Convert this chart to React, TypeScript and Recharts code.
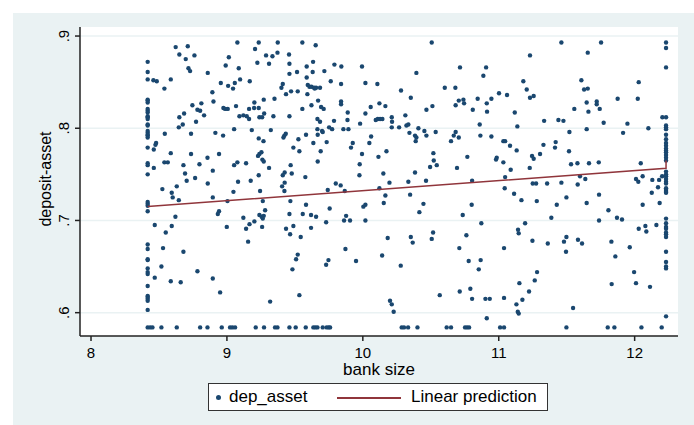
import { ScatterChart, Scatter, XAxis, YAxis, CartesianGrid, Label } from 'recharts';

// bank size (log assets) vs deposit/asset ratio
const leftEdgeX = 8.417;
const leftEdgeY = [
  0.872, 0.861, 0.853, 0.831, 0.830, 0.828, 0.821, 0.819, 0.817, 0.813, 0.812, 0.810,
  0.804, 0.803, 0.797, 0.795, 0.793, 0.792, 0.790, 0.779, 0.762, 0.760, 0.750,
  0.720, 0.718, 0.716, 0.710, 0.674, 0.669, 0.658, 0.657, 0.648, 0.644, 0.642,
  0.629, 0.618, 0.617, 0.615, 0.613, 0.603,
];

const rightEdgeX = 12.231;
const rightEdgeY = [
  0.893, 0.887, 0.866, 0.812, 0.803, 0.801, 0.799, 0.793, 0.788, 0.784, 0.781, 0.778,
  0.776, 0.774, 0.771, 0.768, 0.765, 0.753, 0.750, 0.748, 0.745, 0.742, 0.740,
  0.735, 0.733, 0.731, 0.730, 0.702, 0.697, 0.693, 0.691, 0.687, 0.685, 0.682,
  0.666, 0.655, 0.650, 0.648, 0.596,
];

const floorY = 0.584;
const floorX = [
  8.417, 8.435, 8.452, 8.518, 8.631, 8.803, 8.857, 8.962, 9.023, 9.040, 9.060, 9.212,
  9.273, 9.354, 9.372, 9.460, 9.506, 9.580, 9.636, 9.651, 9.666, 9.705, 9.734, 9.749,
  9.759, 10.286, 10.303, 10.333, 10.402, 10.617, 10.649, 10.752, 10.767, 10.782, 11.010,
  11.039, 11.498, 11.802, 11.851, 12.050, 12.199,
];

const pointsWest: [number, number][] = [
  [8.459, 0.852], [8.484, 0.851], [8.587, 0.853], [8.540, 0.843], [8.623, 0.888], [8.712, 0.889],
  [8.650, 0.880], [8.697, 0.875], [8.761, 0.879], [8.717, 0.865], [8.729, 0.862], [8.859, 0.860],
  [8.543, 0.794], [8.479, 0.784], [8.474, 0.782], [8.462, 0.777], [8.462, 0.757], [8.587, 0.773],
  [8.540, 0.763], [8.565, 0.763], [8.680, 0.760], [8.736, 0.772], [8.798, 0.761], [8.857, 0.768],
  [8.692, 0.751], [8.766, 0.746], [8.704, 0.743], [8.859, 0.740], [8.736, 0.794], [8.646, 0.801],
  [8.675, 0.804], [8.650, 0.812], [8.685, 0.816], [8.746, 0.825], [8.783, 0.820], [8.803, 0.819],
  [8.812, 0.827], [8.832, 0.814], [8.773, 0.807], [8.893, 0.839], [8.901, 0.829], [8.915, 0.795],
  [8.972, 0.792], [8.942, 0.772], [8.896, 0.754], [8.991, 0.868], [9.014, 0.877], [8.955, 0.849],
  [9.009, 0.846], [9.045, 0.843], [9.058, 0.849], [9.097, 0.853], [9.087, 0.865], [9.077, 0.893],
  [9.234, 0.893], [9.207, 0.886], [9.224, 0.871], [9.288, 0.879], [9.335, 0.878], [9.372, 0.882],
  [9.310, 0.870], [9.374, 0.893], [9.168, 0.851], [8.974, 0.822], [8.987, 0.821], [9.006, 0.821],
  [9.067, 0.824], [9.053, 0.799], [9.092, 0.813], [9.121, 0.814], [9.146, 0.813], [9.163, 0.810],
  [9.163, 0.821], [9.200, 0.822], [9.234, 0.822], [9.202, 0.828], [9.271, 0.831], [9.350, 0.832],
  [9.239, 0.812], [9.259, 0.812], [9.274, 0.816], [9.342, 0.813], [9.183, 0.798], [9.323, 0.798],
  [9.234, 0.789], [9.269, 0.786], [9.229, 0.770], [9.239, 0.772], [9.254, 0.774], [9.261, 0.766],
  [9.271, 0.764], [9.310, 0.757], [9.234, 0.749], [9.175, 0.743], [9.053, 0.760], [9.077, 0.763],
  [9.141, 0.762], [9.082, 0.742],
  [8.525, 0.734], [8.631, 0.737], [8.594, 0.730], [8.601, 0.725], [8.646, 0.722], [8.621, 0.704],
  [8.469, 0.695], [8.550, 0.687], [8.594, 0.694], [8.530, 0.670], [8.680, 0.666], [8.518, 0.650],
  [8.469, 0.638], [8.587, 0.634], [8.660, 0.633], [8.783, 0.645], [8.896, 0.637], [8.950, 0.622],
  [8.896, 0.725], [9.004, 0.721], [9.048, 0.731], [9.244, 0.732], [9.264, 0.721], [9.281, 0.711],
  [9.239, 0.706], [9.256, 0.704], [9.271, 0.705], [9.264, 0.702], [8.942, 0.710], [8.933, 0.707],
  [8.999, 0.693], [9.121, 0.703], [9.166, 0.696], [9.202, 0.699], [9.141, 0.691], [9.259, 0.693],
  [9.156, 0.677], [9.318, 0.612],
];

const pointsMid: [number, number][] = [
  [9.555, 0.893], [9.653, 0.890], [9.457, 0.880], [9.460, 0.870], [9.460, 0.859], [9.516, 0.861],
  [9.587, 0.867], [9.634, 0.872], [9.631, 0.861], [9.587, 0.855], [9.411, 0.848], [9.401, 0.844],
  [9.435, 0.837], [9.472, 0.840], [9.521, 0.840], [9.595, 0.847], [9.607, 0.845], [9.622, 0.845],
  [9.641, 0.844], [9.656, 0.844], [9.685, 0.844], [9.592, 0.837], [9.646, 0.843], [9.717, 0.862],
  [9.764, 0.851], [9.791, 0.869], [9.842, 0.867], [9.840, 0.848], [9.994, 0.867], [10.019, 0.849],
  [10.107, 0.848], [10.281, 0.841], [10.394, 0.860], [10.353, 0.833], [9.460, 0.813], [9.555, 0.821],
  [9.622, 0.825], [9.671, 0.830], [9.693, 0.823], [9.712, 0.821], [9.840, 0.829], [9.840, 0.826],
  [9.889, 0.817], [10.058, 0.823], [10.122, 0.827], [10.166, 0.824], [10.019, 0.816], [9.980, 0.805],
  [9.887, 0.809], [9.857, 0.799], [9.894, 0.799], [9.788, 0.808], [9.666, 0.810], [9.685, 0.807],
  [9.752, 0.801], [9.774, 0.799], [9.700, 0.797], [9.705, 0.796], [9.666, 0.799], [10.095, 0.809],
  [10.110, 0.810], [10.127, 0.810], [10.144, 0.810], [10.213, 0.812], [10.215, 0.807], [10.213, 0.801],
  [10.267, 0.801], [10.313, 0.814], [10.321, 0.803], [10.335, 0.804], [10.409, 0.800], [10.343, 0.795],
  [10.384, 0.792], [10.394, 0.790], [10.389, 0.786], [9.433, 0.794], [9.423, 0.792], [9.416, 0.790],
  [9.526, 0.788], [9.582, 0.793], [9.489, 0.779], [9.533, 0.775], [9.636, 0.784], [9.668, 0.793],
  [9.734, 0.785], [9.690, 0.775], [9.926, 0.784], [9.913, 0.779], [9.994, 0.772], [10.061, 0.791],
  [10.048, 0.784], [10.115, 0.769], [10.174, 0.775], [9.469, 0.760], [9.425, 0.752], [9.411, 0.749],
  [9.477, 0.751], [9.577, 0.747], [9.668, 0.764], [9.977, 0.761], [9.975, 0.749], [9.801, 0.740],
  [10.151, 0.751], [10.196, 0.741], [10.335, 0.742], [10.384, 0.752],
  [9.425, 0.741], [9.406, 0.737], [9.423, 0.732], [9.467, 0.721], [9.460, 0.707], [9.558, 0.707],
  [9.582, 0.717], [9.619, 0.706], [9.656, 0.704], [9.435, 0.691], [9.465, 0.685], [9.489, 0.694],
  [9.543, 0.682], [9.619, 0.692], [9.742, 0.733], [9.837, 0.738], [9.867, 0.732], [9.756, 0.713],
  [9.730, 0.698], [9.862, 0.700], [9.877, 0.705], [9.906, 0.700], [10.004, 0.715], [10.019, 0.717],
  [10.019, 0.700], [10.122, 0.735], [10.154, 0.719], [10.166, 0.727], [10.348, 0.728], [10.416, 0.709],
  [9.521, 0.663], [9.509, 0.658], [9.482, 0.647], [9.533, 0.619], [9.730, 0.652], [9.747, 0.657],
  [9.872, 0.669], [9.950, 0.656], [10.142, 0.662], [10.183, 0.681], [10.279, 0.651], [10.353, 0.682],
  [10.367, 0.676], [10.200, 0.613], [10.213, 0.609], [10.227, 0.601],
];

const pointsEast: [number, number][] = [
  [10.507, 0.893], [11.230, 0.879], [10.715, 0.866], [10.907, 0.866], [10.887, 0.857], [11.181, 0.851],
  [11.206, 0.842], [10.603, 0.844], [10.681, 0.844], [11.230, 0.833], [11.257, 0.835], [11.002, 0.838],
  [11.061, 0.836], [10.946, 0.832], [10.912, 0.827], [10.845, 0.832], [10.706, 0.830], [10.740, 0.831],
  [10.745, 0.827], [10.683, 0.825], [10.512, 0.824], [10.468, 0.820], [10.809, 0.820], [10.914, 0.818],
  [11.118, 0.817], [11.334, 0.808], [11.439, 0.809], [10.860, 0.804], [11.137, 0.802], [10.453, 0.797],
  [10.536, 0.796], [10.683, 0.796], [10.468, 0.792], [10.669, 0.792], [10.706, 0.790], [10.649, 0.786],
  [10.865, 0.792], [10.946, 0.791], [11.034, 0.786], [11.047, 0.786], [11.083, 0.781], [11.132, 0.776],
  [11.329, 0.782], [11.419, 0.785], [11.414, 0.779], [10.519, 0.773], [10.522, 0.765], [10.495, 0.758],
  [10.544, 0.760], [10.769, 0.769], [10.693, 0.757], [10.985, 0.768], [10.980, 0.766], [11.034, 0.763],
  [11.245, 0.770], [11.257, 0.767], [11.304, 0.772], [11.228, 0.757], [11.088, 0.755], [11.047, 0.747],
  [10.465, 0.743], [10.804, 0.743], [11.250, 0.740], [11.275, 0.740], [11.356, 0.740],
  [11.044, 0.735], [11.113, 0.729], [11.167, 0.722], [11.280, 0.721], [10.446, 0.718], [10.735, 0.706],
  [10.801, 0.717], [11.427, 0.717], [11.387, 0.703], [10.872, 0.697], [11.194, 0.697], [10.517, 0.687],
  [10.507, 0.680], [10.762, 0.684], [11.142, 0.690], [11.147, 0.686], [11.248, 0.678], [11.361, 0.675],
  [10.710, 0.670], [11.039, 0.670], [10.779, 0.656], [10.867, 0.657], [10.853, 0.647], [11.282, 0.644],
  [11.265, 0.635], [11.152, 0.632], [11.223, 0.623], [10.566, 0.619], [10.713, 0.623], [10.791, 0.626],
  [10.804, 0.615], [10.902, 0.615], [10.934, 0.615], [11.039, 0.616], [11.174, 0.614], [11.130, 0.609],
  [11.140, 0.601], [11.147, 0.599], [10.912, 0.594],
  [11.461, 0.893], [11.753, 0.893], [11.655, 0.882], [11.608, 0.852], [11.628, 0.842], [11.655, 0.843],
  [12.030, 0.850], [11.647, 0.828], [11.721, 0.829], [11.721, 0.826], [11.875, 0.832], [12.023, 0.832],
  [11.556, 0.821], [11.743, 0.821], [11.660, 0.818], [11.476, 0.808], [11.772, 0.806], [11.947, 0.805],
  [12.204, 0.812], [12.101, 0.800], [11.647, 0.799], [11.520, 0.796], [11.915, 0.795], [11.517, 0.775],
  [11.532, 0.761], [11.579, 0.762], [11.664, 0.762], [11.736, 0.763], [12.045, 0.762], [11.598, 0.748],
  [11.637, 0.745], [12.010, 0.745], [12.027, 0.742], [12.059, 0.748], [12.130, 0.744], [12.180, 0.744],
  [12.202, 0.748], [11.581, 0.739],
  [11.461, 0.741], [11.498, 0.725], [11.647, 0.719], [11.738, 0.728], [11.807, 0.711], [11.738, 0.700],
  [11.870, 0.703], [11.907, 0.701], [12.126, 0.730], [12.172, 0.736], [12.184, 0.719], [12.059, 0.717],
  [12.030, 0.691], [12.079, 0.694], [12.086, 0.688], [12.160, 0.695], [11.480, 0.677], [11.498, 0.682],
  [11.583, 0.679], [11.613, 0.675], [11.829, 0.677], [11.964, 0.671], [11.495, 0.666], [11.858, 0.661],
  [11.996, 0.644], [12.010, 0.632], [11.831, 0.631], [12.113, 0.628], [11.547, 0.605],
];

// fitted line (lfit) endpoints as drawn
const fitX = [8.417, 12.231, 12.231];
const fitY = [0.7151, 0.7566, 0.765];

const xTicks = [8, 9, 10, 11, 12];
const yTicks = [0.6, 0.7, 0.8, 0.9];

const DOT = '#1A476F';
const FIT = '#90353B';
const BG = '#EAF2F3';
const FONT = '"Liberation Sans", Arial, sans-serif';

const scatterData = [
  ...leftEdgeY.map((y) => ({ x: leftEdgeX, y })),
  ...rightEdgeY.map((y) => ({ x: rightEdgeX, y })),
  ...floorX.map((x) => ({ x, y: floorY })),
  ...pointsWest.map(([x, y]) => ({ x, y })),
  ...pointsMid.map(([x, y]) => ({ x, y })),
  ...pointsEast.map(([x, y]) => ({ x, y })),
];
const fitData = fitX.map((x, i) => ({ x, y: fitY[i] }));

const Dot = (props: any) => <circle cx={props.cx} cy={props.cy} r={2.2} fill={DOT} />;
const NoDot = () => <g />;

const YTick = ({ x, y, payload }: any) => {
  const label = payload.value.toFixed(1).replace(/^0/, '');
  return (
    <text x={x} y={y} transform={`rotate(-90 ${x} ${y})`} textAnchor="middle" fontSize={15} fontFamily={FONT} fill="#000">
      {label}
    </text>
  );
};

export default function App() {
  return (
    <div style={{ position: 'absolute', left: 0, top: 0, width: 694, height: 425, background: '#fff', fontFamily: FONT }}>
      <div style={{ position: 'absolute', left: 13, top: 13, width: 681, height: 412, background: BG }} />
      <div style={{ position: 'absolute', left: 0, top: 0 }}>
        <ScatterChart width={694} height={425} margin={{ top: 27, right: 16, bottom: 0, left: 0 }}>
          <CartesianGrid vertical={false} fill="#FFFFFF" fillOpacity={1} stroke={BG} strokeWidth={1.5} horizontalValues={yTicks} />
          <XAxis
            type="number"
            dataKey="x"
            domain={[7.919, 12.319]}
            ticks={xTicks}
            allowDataOverflow
            height={89}
            stroke="#222"
            strokeWidth={1.5}
            tickSize={5}
            tickMargin={6}
            tick={{ fontSize: 15, fontFamily: FONT, fill: '#000' }}
          >
            <Label
              content={() => (
                <text x={379} y={375} textAnchor="middle" fontSize={17} fontFamily={FONT} fill="#000">
                  bank size
                </text>
              )}
            />
          </XAxis>
          <YAxis
            type="number"
            dataKey="y"
            domain={[0.5747, 0.9098]}
            ticks={yTicks}
            allowDataOverflow
            width={80}
            stroke="#222"
            strokeWidth={1.5}
            tickSize={5}
            tickMargin={6}
            tick={<YTick />}
          >
            <Label
              content={() => (
                <text x={51} y={179} transform="rotate(-90 51 179)" textAnchor="middle" fontSize={16} fontFamily={FONT} fill="#000">
                  deposit-asset
                </text>
              )}
            />
          </YAxis>
          <Scatter name="dep_asset" data={scatterData} shape={Dot} isAnimationActive={false} />
          <Scatter
            name="Linear prediction"
            data={fitData}
            line={{ stroke: FIT, strokeWidth: 1.5 }}
            shape={NoDot}
            isAnimationActive={false}
          />
        </ScatterChart>
      </div>
      <div
        style={{
          position: 'absolute',
          left: 208,
          top: 383,
          width: 338,
          height: 26,
          background: '#fff',
          border: '1.5px solid #333',
          fontSize: 17,
          color: '#000',
        }}
      >
        <span style={{ position: 'absolute', left: 7, top: 11, width: 5, height: 5, borderRadius: 3, background: DOT }} />
        <span style={{ position: 'absolute', left: 20, top: 3, lineHeight: '20px' }}>dep_asset</span>
        <span style={{ position: 'absolute', left: 128, top: 13, width: 64, height: 1.5, background: FIT }} />
        <span style={{ position: 'absolute', left: 202, top: 3, lineHeight: '20px' }}>Linear prediction</span>
      </div>
    </div>
  );
}
